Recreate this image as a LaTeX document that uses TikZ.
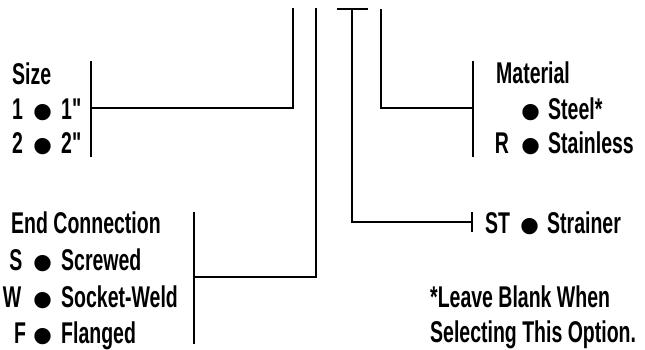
\documentclass[tikz,border=0pt]{standalone}
\usepackage{fontspec}
\newfontfamily\cond[FakeStretch=0.65]{Liberation Sans Bold}
\newfontfamily\bulfont{Liberation Sans}
\tikzset{
  txt/.style={font=\cond\fontsize{30}{33}\selectfont, inner sep=0pt, anchor=base west},
  ltr/.style={font=\cond\fontsize{30}{33}\selectfont, inner sep=0pt, anchor=base},
  bul/.style={font=\bulfont\fontsize{60}{60}\selectfont, inner sep=0pt, anchor=base, yshift=-13pt},
  wire/.style={line width=1.8pt, line cap=butt, line join=miter}
}
\begin{document}
\begin{tikzpicture}[x=1pt,y=-1pt]
\useasboundingbox (0,0) rectangle (645,349);
% ---- Size block
\node[txt] (size) at (12,84) {Size};
\node[ltr] (s1l) at (17.5,119) {1};
\node[bul] (s1b) at (43.5,119) {•};
\node[txt] (s1w) at (61,119) {1"};
\node[ltr] (s2l) at (17.5,153) {2};
\node[bul] (s2b) at (43.5,153) {•};
\node[txt] (s2w) at (61,153) {2"};
% ---- End connection block
\node[txt] (end) at (11,233) {End Connection};
\node[ltr] (e1l) at (16,270) {S};
\node[bul] (e1b) at (43.5,270) {•};
\node[txt] (e1w) at (61,270) {Screwed};
\node[ltr] (e2l) at (12,307) {W};
\node[bul] (e2b) at (43.5,307) {•};
\node[txt] (e2w) at (61,307) {Socket-Weld};
\node[ltr] (e3l) at (20,343) {F};
\node[bul] (e3b) at (43.5,343) {•};
\node[txt] (e3w) at (61,343) {Flanged};
% ---- Material block
\node[txt] (mat) at (496,83) {Material};
\node[bul] (m1b) at (530.5,119) {•};
\node[txt] (m1w) at (548,119) {Steel*};
\node[ltr] (m2l) at (502,153) {R};
\node[bul] (m2b) at (530.5,153) {•};
\node[txt] (m2w) at (548,153) {Stainless};
% ---- Strainer
\node[txt] (stl) at (485,233) {ST};
\node[bul] (stb) at (530,233) {•};
\node[txt] (stw) at (547,233) {Strainer};
% ---- Note
\node[txt] (n1) at (430,307) {*Leave Blank When};
\node[txt] (n2) at (430,342) {Selecting This Option.};
% ---- coordinates
\coordinate (aT) at (293,8);
\coordinate (aC) at (293,108);
\coordinate (aJ) at (91,108);
\coordinate (aB1) at (91,61);
\coordinate (aB2) at (91,157);
\coordinate (bT) at (316,8);
\coordinate (bC) at (316,277);
\coordinate (bJ) at (194,277);
\coordinate (bB1) at (194,212);
\coordinate (bB2) at (194,344);
\coordinate (cL) at (337,9);
\coordinate (cR) at (368,9);
\coordinate (cT) at (352,9);
\coordinate (cC) at (352,222);
\coordinate (cJ) at (472,222);
\coordinate (cB1) at (472,212);
\coordinate (cB2) at (472,232);
\coordinate (dT) at (381,9);
\coordinate (dC) at (381,108);
\coordinate (dJ) at (473,108);
\coordinate (dB1) at (473,61);
\coordinate (dB2) at (473,157);
% ---- wires
\draw[wire] (aT) -- (aC) -- (aJ);
\draw[wire] (aB1) -- (aB2);
\draw[wire] (bT) -- (bC) -- (bJ);
\draw[wire] (bB1) -- (bB2);
\draw[wire] (cL) -- (cR);
\draw[wire] (cT) -- (cC) -- (cJ);
\draw[wire] (cB1) -- (cB2);
\draw[wire] (dT) -- (dC) -- (dJ);
\draw[wire] (dB1) -- (dB2);
\end{tikzpicture}
\end{document}
